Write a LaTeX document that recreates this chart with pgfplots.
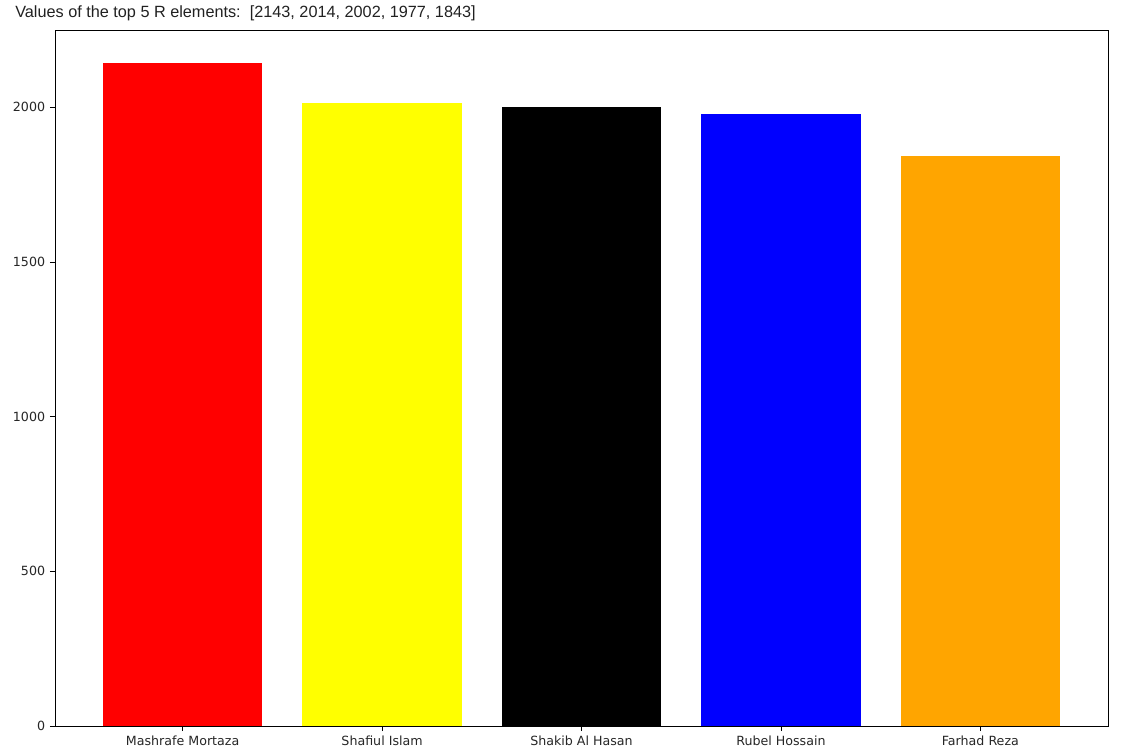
\documentclass[border=0pt]{standalone}
\usepackage{pgfplots}
\pgfplotsset{compat=1.18}
\usepackage{fontspec}
\setmainfont{DejaVu Sans}
\newfontfamily\titlefont{Liberation Sans}
\definecolor{mplred}{RGB}{255,0,0}
\definecolor{mplyellow}{RGB}{255,255,0}
\definecolor{mplblack}{RGB}{0,0,0}
\definecolor{mplblue}{RGB}{0,0,255}
\definecolor{mplorange}{RGB}{255,165,0}
\definecolor{titlegray}{RGB}{33,33,33}
\begin{document}
\begin{tikzpicture}[x=0.72pt,y=0.72pt]
\begin{axis}[
  name=ax,
  at={(0,0)}, anchor=south west,
  scale only axis,
  width=758.16pt, height=501.12pt,
  xmin=-0.64, xmax=4.64,
  ymin=0, ymax=2250,
  xtick={0,1,2,3,4},
  xticklabels={Mashrafe Mortaza, Shafiul Islam, Shakib Al Hasan, Rubel Hossain, Farhad Reza},
  ytick={0,500,1000,1500,2000},
  scaled y ticks=false,
  tick align=outside,
  xtick pos=bottom, ytick pos=left,
  major tick length=3.6pt,
  axis line style={line width=0.6pt},
  every tick/.style={black, line width=0.6pt},
  tick label style={font=\fontsize{9.1}{11}\selectfont, text=black!85},
  /pgf/number format/assume math mode=true,
  /pgf/number format/.cd, 1000 sep={},
]
\addplot[ybar, bar width=0.8, bar shift=0pt, fill=mplred, draw=none] coordinates {(0,2143)};
\addplot[ybar, bar width=0.8, bar shift=0pt, fill=mplyellow, draw=none] coordinates {(1,2014)};
\addplot[ybar, bar width=0.8, bar shift=0pt, fill=mplblack, draw=none] coordinates {(2,2002)};
\addplot[ybar, bar width=0.8, bar shift=0pt, fill=mplblue, draw=none] coordinates {(3,1977)};
\addplot[ybar, bar width=0.8, bar shift=0pt, fill=mplorange, draw=none] coordinates {(4,1843)};
\end{axis}
\node[anchor=west, inner sep=0pt, text=titlegray, font=\titlefont\fontsize{11.7}{13}\selectfont] at (-40,713) {Values of the top 5 R elements:\ \ [2143, 2014, 2002, 1977, 1843]};
\useasboundingbox (-55,-26) rectangle (1076,726);
\end{tikzpicture}
\end{document}
